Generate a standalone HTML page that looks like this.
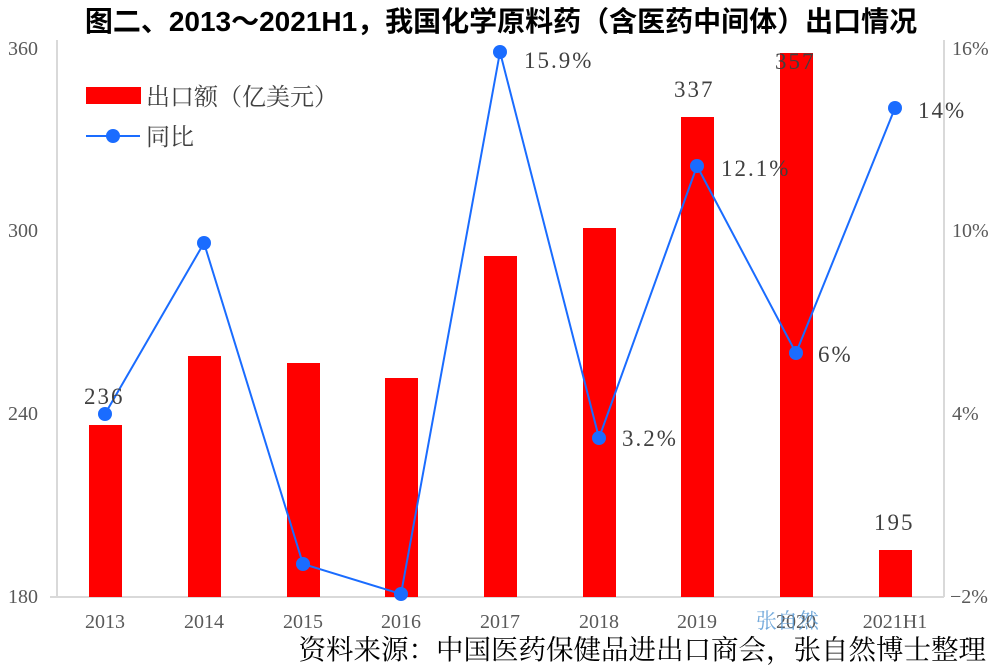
<!DOCTYPE html>
<html><head><meta charset="utf-8"><style>
body{margin:0;background:#fff;}
svg{display:block;}
.t{font-family:"Liberation Serif","Noto Serif CJK SC",serif;fill:#595959;font-size:20px;}
.d{font-family:"Liberation Serif","Noto Serif CJK SC",serif;fill:#404040;font-size:23px;letter-spacing:2px;}
</style></head><body>
<svg width="1002" height="666" xmlns="http://www.w3.org/2000/svg">
<text x="501" y="31" text-anchor="middle" font-family="'Liberation Sans','Noto Sans CJK SC',sans-serif" font-weight="bold" font-size="28" fill="#000">图二、2013～2021H1，我国化学原料药（含医药中间体）出口情况</text>
<line x1="57" y1="40" x2="57" y2="597" stroke="#d9d9d9" stroke-width="2"/>
<line x1="944" y1="40" x2="944" y2="597" stroke="#d9d9d9" stroke-width="2"/>
<line x1="50" y1="597" x2="944" y2="597" stroke="#d9d9d9" stroke-width="2"/>
<g class="t" text-anchor="end">
<text x="38" y="55">360</text><text x="38" y="237">300</text><text x="38" y="420">240</text><text x="38" y="603">180</text>
</g>
<g class="t" text-anchor="start">
<text x="952" y="55">16%</text><text x="952" y="237">10%</text><text x="952" y="420">4%</text><text x="950" y="603">−2%</text>
</g>
<g fill="#ff0000">
<rect x="89" y="425" width="33" height="172"/>
<rect x="188" y="356" width="33" height="241"/>
<rect x="287" y="363" width="33" height="234"/>
<rect x="385" y="378" width="33" height="219"/>
<rect x="484" y="256" width="33" height="341"/>
<rect x="583" y="228" width="33" height="369"/>
<rect x="681" y="117" width="33" height="480"/>
<rect x="780" y="53" width="33" height="544"/>
<rect x="879" y="550" width="33" height="47"/>
</g>
<polyline fill="none" stroke="#1a6cff" stroke-width="2" points="105,414 204,243 303,564 401,594 500,52 599,438 697,166 796,353 895,108"/>
<g fill="#1a6cff">
<circle cx="105" cy="414" r="7"/><circle cx="204" cy="243" r="7"/><circle cx="303" cy="564" r="7"/><circle cx="401" cy="594" r="7"/><circle cx="500" cy="52" r="7"/><circle cx="599" cy="438" r="7"/><circle cx="697" cy="166" r="7"/><circle cx="796" cy="353" r="7"/><circle cx="895" cy="108" r="7"/>
</g>
<g class="d">
<text x="84" y="404">236</text>
<text x="674" y="97">337</text>
<text x="775" y="69">357</text>
<text x="874" y="530">195</text>
<text x="524" y="68">15.9%</text>
<text x="622" y="446">3.2%</text>
<text x="721" y="176">12.1%</text>
<text x="818" y="362">6%</text>
<text x="918" y="118">14%</text>
</g>
<g class="t" text-anchor="middle">
<text x="105" y="628">2013</text><text x="204" y="628">2014</text><text x="303" y="628">2015</text><text x="401" y="628">2016</text><text x="500" y="628">2017</text><text x="599" y="628">2018</text><text x="697" y="628">2019</text><text x="796" y="628">2020</text><text x="895" y="628">2021H1</text>
</g>
<text x="756" y="628" font-family="'Noto Serif CJK SC',serif" font-size="21" fill="#5b9bd5" opacity="0.85">张自然</text>
<rect x="86" y="87" width="55" height="17" fill="#ff0000"/>
<text x="146" y="105" font-family="'Noto Serif CJK SC',serif" font-size="24" fill="#404040">出口额（亿美元）</text>
<line x1="86" y1="136" x2="140" y2="136" stroke="#1a6cff" stroke-width="2"/>
<circle cx="113" cy="136" r="7" fill="#1a6cff"/>
<text x="146" y="145" font-family="'Noto Serif CJK SC',serif" font-size="24" fill="#404040">同比</text>
<text x="986" y="659" text-anchor="end" font-family="'Noto Serif CJK SC',serif" font-size="27.5" fill="#000">资料来源：中国医药保健品进出口商会，张自然博士整理</text>
</svg>
</body></html>
